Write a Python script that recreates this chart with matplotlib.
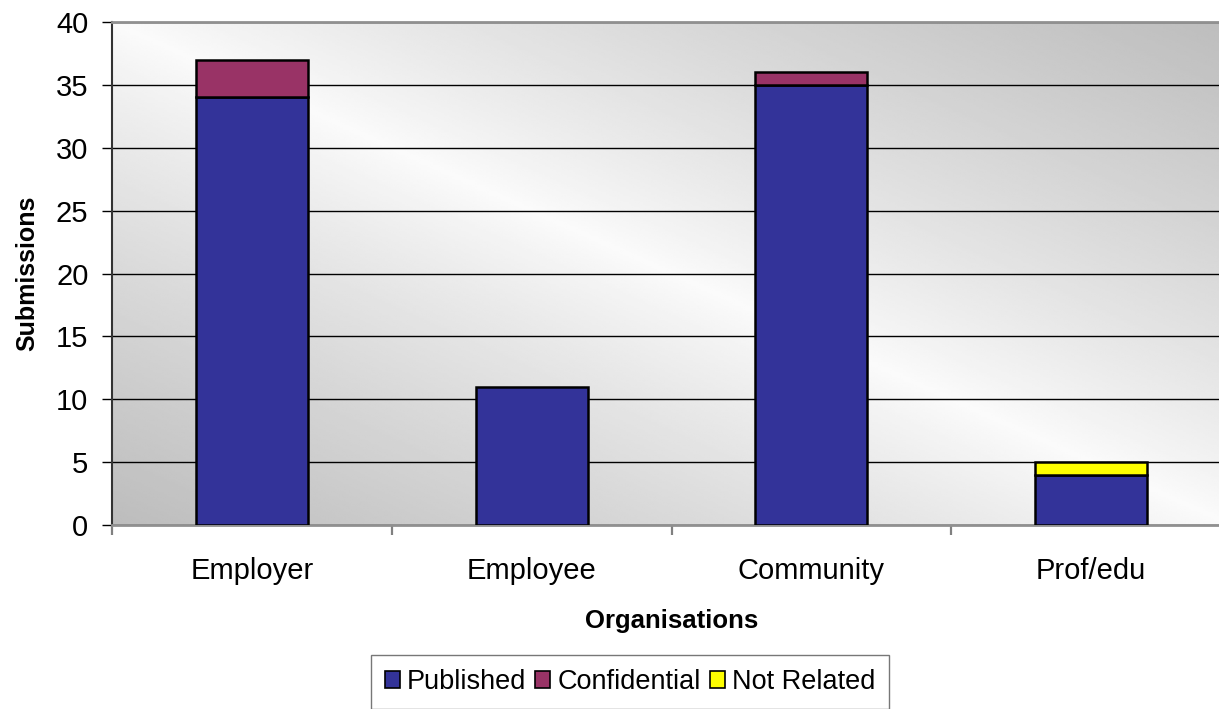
import numpy as np
import matplotlib
matplotlib.use("Agg")
import matplotlib.pyplot as plt
from matplotlib.patches import Patch

plt.rcParams["font.family"] = ["Liberation Sans", "DejaVu Sans"]

categories = ["Employer", "Employee", "Community", "Prof/edu"]
published = [34, 11, 35, 4]
confidential = [3, 0, 1, 0]
not_related = [0, 0, 0, 1]

series = [
    ("Published", published, "#333399"),
    ("Confidential", confidential, "#993366"),
    ("Not Related", not_related, "#FFFF00"),
]

fig = plt.figure(figsize=(12.19, 7.09), dpi=100)
ax = fig.add_axes([0.0919, 0.2595, 0.918, 0.7094])

x = np.arange(len(categories))
ax.set_xlim(-0.5, len(categories) - 0.5)
ax.set_ylim(0, 40)

# diagonal grey-white-grey background like the Excel plot area
u, v = np.meshgrid(np.linspace(0, 1, 400), np.linspace(1, 0, 300))
t = np.abs(u + v - 1) ** 0.85
light, dark = 0.985, 0.74
bg = light - (light - dark) * t
ax.imshow(bg, cmap="gray", vmin=0, vmax=1, aspect="auto",
          extent=(-0.5, len(categories) - 0.5, 0, 40), zorder=0,
          interpolation="bilinear")

ax.yaxis.grid(True, color="black", linewidth=1.0)
for gl in ax.get_ygridlines():
    gl.set_zorder(1)

bottom = np.zeros(len(categories))
handles = []
for name, vals, color in series:
    vals = np.array(vals, dtype=float)
    mask = vals > 0
    ax.bar(x[mask], vals[mask], width=0.4, bottom=bottom[mask], color=color,
           edgecolor="black", linewidth=1.8, zorder=3)
    bottom += vals
    handles.append(Patch(facecolor=color, edgecolor="black", linewidth=1.2,
                         label=name))

ax.set_yticks(np.arange(0, 41, 5))
ax.tick_params(axis="y", labelsize=21, length=7, width=1.0, color="black",
               pad=10, direction="out")

ax.set_xticks(x)
ax.set_xticklabels(categories)
ax.set_xticks(np.arange(-0.5, len(categories), 1.0), minor=True)
ax.tick_params(axis="x", which="major", length=0, labelsize=21, pad=23)
ax.tick_params(axis="x", which="minor", length=7, width=1.6, color="#808080")

ax.spines["top"].set_color("#909090")
ax.spines["top"].set_linewidth(2)
ax.spines["left"].set_color("#333333")
ax.spines["left"].set_linewidth(1.5)
ax.spines["bottom"].set_color("#909090")
ax.spines["bottom"].set_linewidth(2)
ax.spines["right"].set_visible(False)

ax.set_ylabel("Submissions", fontsize=18, fontweight="bold", labelpad=12)
ax.set_xlabel("Organisations", fontsize=18.5, fontweight="bold", labelpad=17)

fig.legend(handles=handles, loc="center", bbox_to_anchor=(630 / 1219, 1 - 682 / 709),
           ncol=3, fontsize=19.5, frameon=True, fancybox=False, edgecolor="#555555",
           handlelength=0.55, handleheight=0.55, handletextpad=0.25,
           columnspacing=0.35, borderpad=0.5, borderaxespad=0)

fig.savefig("out.png", dpi=100)
